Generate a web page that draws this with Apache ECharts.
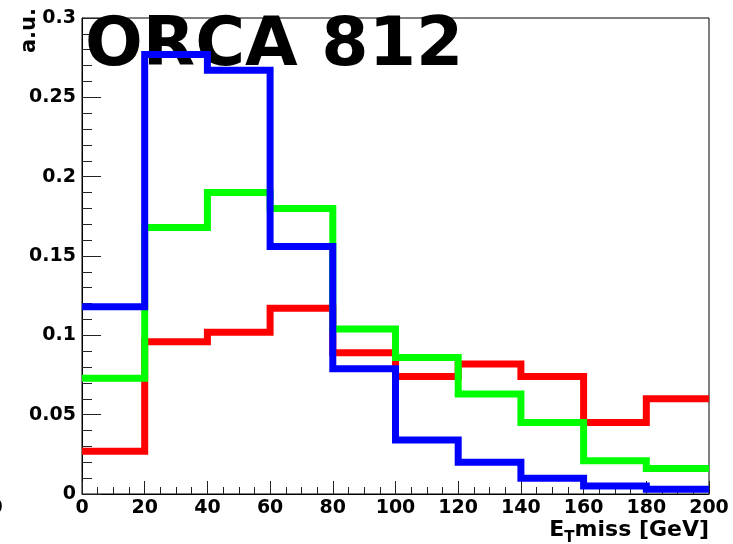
<!DOCTYPE html>
<html>
<head>
<meta charset="utf-8">
<script src="https://cdn.jsdelivr.net/npm/echarts@6/dist/echarts.min.js"></script>
<style>
  html, body { margin: 0; padding: 0; background: #ffffff; }
  #chart { width: 733px; height: 544px; }
</style>
</head>
<body>
<div id="chart"></div>
<script>
// Missing transverse energy distributions, normalised (a.u.), 20 GeV bins
const binEdges = [0, 20, 40, 60, 80, 100, 120, 140, 160, 180, 200];
const redValues   = [0.027, 0.096, 0.102, 0.117, 0.089, 0.074, 0.082, 0.074, 0.045, 0.060];
const greenValues = [0.073, 0.168, 0.190, 0.180, 0.104, 0.086, 0.063, 0.045, 0.021, 0.016];
const blueValues  = [0.118, 0.277, 0.267, 0.156, 0.079, 0.034, 0.020, 0.010, 0.005, 0.003];
const xTickLabels = ['0', '20', '40', '60', '80', '100', '120', '140', '160', '180', '200'];
const yTickLabels = ['0', '0.05', '0.1', '0.15', '0.2', '0.25', '0.3'];

const FONT = 'DejaVu Sans';

// Histogram outline: one point per lower bin edge plus the closing upper edge
function stepPoints(values) {
  const pts = values.map((v, i) => [binEdges[i], v]);
  pts.push([binEdges[binEdges.length - 1], values[values.length - 1]]);
  return pts;
}

function histSeries(values, color) {
  return {
    type: 'line',
    step: 'end',
    symbol: 'none',
    data: stepPoints(values),
    lineStyle: { color: color, width: 7, join: 'miter', cap: 'butt' },
    z: 3
  };
}

const chart = echarts.init(document.getElementById('chart'), null, { renderer: 'canvas' });

chart.setOption({
  animation: false,
  backgroundColor: '#ffffff',
  title: {
    text: 'ORCA 812',
    left: 80,
    top: 8,
    z: 1,
    textStyle: { fontFamily: FONT, fontWeight: 'bold', fontSize: 68, color: '#000000' }
  },
  grid: {
    left: 82, right: 24, top: 18, bottom: 50,
    show: true, borderColor: '#000000', borderWidth: 1, backgroundColor: 'transparent'
  },
  xAxis: {
    type: 'value',
    min: 0, max: 200, interval: 20,
    axisLine: { show: true, onZero: false, lineStyle: { color: '#000000', width: 1 } },
    axisTick: { show: true, inside: true, length: 13, lineStyle: { color: '#222222', width: 1 } },
    minorTick: { show: true, splitNumber: 4, length: 7, lineStyle: { color: '#222222', width: 1 } },
    splitLine: { show: false },
    axisLabel: {
      show: true, margin: 5, showMinLabel: true, showMaxLabel: true,
      fontFamily: FONT, fontWeight: 'bold', fontSize: 19, color: '#000000',
      formatter: (v, i) => xTickLabels[i]
    }
  },
  yAxis: {
    type: 'value',
    min: 0, max: 0.3, interval: 0.05,
    axisLine: { show: true, onZero: false, lineStyle: { color: '#000000', width: 1 } },
    axisTick: { show: true, inside: true, length: 19, lineStyle: { color: '#222222', width: 1 } },
    minorTick: { show: true, splitNumber: 5, length: 10, lineStyle: { color: '#222222', width: 1 } },
    splitLine: { show: false },
    axisLabel: {
      show: true, margin: 6, showMinLabel: true, showMaxLabel: true,
      fontFamily: FONT, fontWeight: 'bold', fontSize: 19, color: '#000000',
      formatter: (v, i) => yTickLabels[i]
    }
  },
  graphic: [
    {
      type: 'text',
      x: 30, y: 8,
      rotation: Math.PI / 2,
      z: 10,
      style: {
        text: 'a.u.',
        font: 'bold 21px "DejaVu Sans"',
        fill: '#000000',
        textAlign: 'right', align: 'right',
        textVerticalAlign: 'middle', verticalAlign: 'middle'
      }
    },
    {
      type: 'text',
      x: 709, y: 533,
      z: 10,
      style: {
        text: '{m|E}{s|T}{m|miss [GeV]}',
        textAlign: 'right', align: 'right',
        textVerticalAlign: 'middle', verticalAlign: 'middle',
        rich: {
          m: { fontFamily: FONT, fontWeight: 'bold', fontSize: 22, color: '#000000',
               verticalAlign: 'bottom', lineHeight: 26, padding: [0, 0, 5, 0] },
          s: { fontFamily: FONT, fontWeight: 'bold', fontSize: 15, color: '#000000',
               verticalAlign: 'bottom', lineHeight: 26 }
        }
      }
    },
    {
      type: 'text',
      x: -4, y: 508,
      z: 10,
      style: {
        text: '0',
        font: 'bold 19px "DejaVu Sans"',
        fill: '#000000',
        textAlign: 'center', align: 'center',
        textVerticalAlign: 'middle', verticalAlign: 'middle'
      }
    }
  ],
  series: [
    histSeries(redValues, '#ff0000'),
    histSeries(greenValues, '#00ff00'),
    histSeries(blueValues, '#0000ff')
  ]
});
</script>
</body>
</html>
